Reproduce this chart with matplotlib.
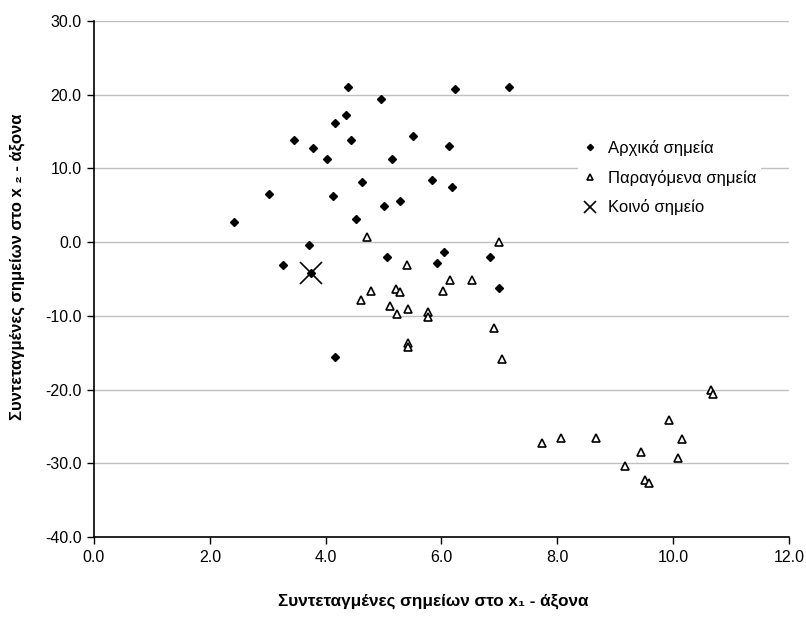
import matplotlib
matplotlib.use("Agg")
import matplotlib.pyplot as plt

plt.rcParams['font.family'] = ['Liberation Sans', 'DejaVu Sans']

# Initial points (x1, x2)
initial_x = [4.38, 6.24, 7.17, 4.95, 4.35, 4.16, 3.45, 4.44, 5.50, 3.79,
             6.13, 4.02, 5.14, 4.63, 5.84, 6.18, 3.03, 4.13, 5.28, 5.00,
             4.52, 2.41, 3.71, 5.06, 6.04, 5.92, 3.26, 6.83, 7.00, 4.16, 3.74]
initial_y = [21.0, 20.8, 21.0, 19.4, 17.3, 16.1, 13.9, 13.9, 14.4, 12.8,
             13.1, 11.3, 11.3, 8.2, 8.4, 7.5, 6.6, 6.2, 5.6, 4.9,
             3.1, 2.7, -0.4, -2.0, -1.3, -2.8, -3.1, -2.0, -6.2, -15.6, -4.2]

# Generated points (x1, x2)
generated_x = [4.72, 5.40, 7.00, 6.15, 6.52, 4.78, 5.22, 5.28, 6.02, 4.61,
               5.11, 5.43, 5.23, 5.76, 5.76, 6.91, 5.43, 5.43, 7.05,
               10.65, 10.68, 9.92, 7.73, 8.07, 8.66, 10.15, 9.44, 10.09,
               9.16, 9.52, 9.59]
generated_y = [0.7, -3.1, 0.0, -5.1, -5.1, -6.6, -6.4, -6.7, -6.6, -7.9,
               -8.6, -9.0, -9.7, -9.5, -10.2, -11.7, -13.7, -14.2, -15.9,
               -20.1, -20.6, -24.1, -27.2, -26.5, -26.5, -26.7, -28.5, -29.3,
               -30.4, -32.2, -32.7]

# Common point
common_x = [3.74]
common_y = [-4.2]

x_ticks = [0.0, 2.0, 4.0, 6.0, 8.0, 10.0, 12.0]
y_ticks = [-40.0, -30.0, -20.0, -10.0, 0.0, 10.0, 20.0, 30.0]

fig = plt.figure(figsize=(8.06, 6.18), dpi=100)
ax = fig.add_axes([0.1166, 0.131, 0.8623, 0.835])

ax.plot(initial_x, initial_y, linestyle='none', marker='D', ms=4,
        color='black', label='Αρχικά σημεία', zorder=3)
ax.plot(generated_x, generated_y, linestyle='none', marker='^', ms=5.5,
        markerfacecolor='white', markeredgecolor='black', markeredgewidth=1.2,
        label='Παραγόμενα σημεία', zorder=3)
ax.plot(common_x, common_y, linestyle='none', marker='x', ms=16,
        markeredgewidth=1.2, color='black', label='Κοινό σημείο', zorder=4)

ax.set_xlim(0, 12)
ax.set_ylim(-40, 30)
ax.set_xticks(x_ticks)
ax.set_yticks(y_ticks)
ax.set_xticklabels([f"{v:.1f}" for v in x_ticks])
ax.set_yticklabels([f"{v:.1f}" for v in y_ticks])
ax.tick_params(axis='both', direction='out', length=5, width=1,
               labelsize=11.5, colors='black', pad=4)

ax.yaxis.grid(True, color='#c0c0c0', linewidth=1)
ax.set_axisbelow(True)
for side in ('top', 'right'):
    ax.spines[side].set_visible(False)
for side in ('left', 'bottom'):
    ax.spines[side].set_linewidth(1.2)
    ax.spines[side].set_color('black')

ax.set_xlabel('Συντεταγμένες σημείων στο x₁ - άξονα', fontsize=12.3,
              fontweight='bold')
ax.set_ylabel('Συντεταγμένες σημείων στο x ₂ - άξονα', fontsize=12,
              fontweight='bold')
ax.xaxis.set_label_coords(0.4885, -0.110)
ax.yaxis.set_label_coords(-0.099, 0.523)

leg = ax.legend(loc='upper left', bbox_to_anchor=(0.685, 0.795), frameon=True,
                fontsize=12, handlelength=0.8, handletextpad=0.65,
                labelspacing=0.82, borderpad=0.3)
leg.get_frame().set_edgecolor('none')
leg.get_frame().set_facecolor('white')
leg.get_frame().set_alpha(1)
for handle, size in zip(leg.legend_handles, (3.2, 4.2, 8)):
    handle.set_markersize(size)

fig.savefig('out.png', dpi=100)
